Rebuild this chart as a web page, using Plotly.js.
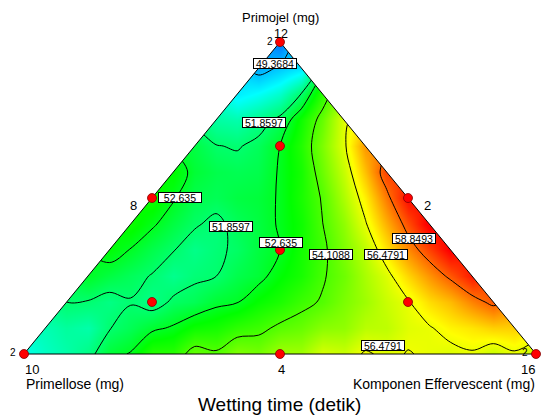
<!DOCTYPE html>
<html><head><meta charset="utf-8">
<script src="https://cdn.plot.ly/plotly-3.0.1.min.js"></script>
<style>html,body{margin:0;padding:0;background:#fff}#chart{width:542px;height:416px}</style>
</head><body><div id="chart"></div>
<script>
// Wetting time (detik) on a simplex lattice with step 1/12.
// Row i: Primojel pseudo-fraction = i/12; values run from the Primellose side (left) to the Effervescent side (right).
const row0  = [50.5, 51.2, 52.4, 53.56, 54.5, 54.9, 55.35, 56.15, 56.6, 56.52, 56.2, 55.9, 55.8];
const row1  = [51.1, 51.2, 52.1, 52.72, 53.3, 53.88, 54.5, 55.1, 55.75, 56.4, 57.05, 57.37];
const row2  = [51.86, 51.6, 51.55, 52.1, 52.6, 53.4, 54.2, 55.3, 56.4, 57.65, 59.1];
const row3  = [52.6, 52.05, 51.5, 51.85, 52.42, 53.34, 54.6, 56.2, 58.2, 60.0];
const row4  = [52.95, 52.2, 51.55, 51.95, 52.635, 53.9, 55.75, 58.35, 60.4];
const row5  = [53.2, 52.3, 51.7, 52.32, 53.2, 55.1, 57.8, 60.5];
const row6  = [53.25, 52.2, 52.3, 52.7, 54.2, 56.9, 60.2];
const row7  = [53.05, 52.2, 52.2, 53.3, 55.9, 59.4];
const row8  = [52.28, 51.8, 52.635, 54.8, 58.2];
const row9  = [51.28, 51.55, 53.2, 56.3];
const row10 = [50.04, 50.85, 53.6];
const row11 = [49.0, 49.9];
const row12 = [48.2];

// Contour levels drawn in the picture
const contourLevels = [49.3684, 51.8597, 52.635, 54.1088, 56.4791, 58.8493];

// Design points (pseudo-component fractions)
const ptPrimojel     = [1, 0, 0, 0.5, 0.5, 0, 1/3, 2/3, 1/6, 1/6];
const ptPrimellose   = [0, 1, 0, 0.5, 0, 0.5, 1/3, 1/6, 2/3, 1/6];
const ptEffervescent = [0, 0, 1, 0, 0.5, 0.5, 1/3, 1/6, 1/6, 2/3];

// Texts
const compTop = 'Primojel (mg)';
const compLeft = 'Primellose (mg)';
const compRight = 'Komponen Effervescent (mg)';
const chartTitle = 'Wetting time (detik)';
const vertexTop = '12', vertexLeft = '10', vertexRight = '16';
const vertexLow = '2';
const midLeft = '8', midRight = '2', midBottom = '4';
const contourLabelTexts = ['49.3684', '51.8597', '52.635', '51.8597', '52.635', '54.1088', '56.4791', '58.8493', '56.4791'];

// ---------- build ----------
const W = 542, H = 416;
const rows = [row0,row1,row2,row3,row4,row5,row6,row7,row8,row9,row10,row11,row12];
const N = rows.length - 1;
const latX = [], latY = [], latZ = [];
rows.forEach((r, i) => r.forEach((v, j) => {
  latX.push((2*j + i) / (2*N));   // effervescent + primojel/2
  latY.push(i / N);               // primojel
  latZ.push(v);
}));
// ternary (a = top, c = right) -> cartesian
const tx = (a, c) => c + a/2;
const ty = (a) => a;

// axis ranges so that the triangle sits where it does in the picture
const xr0 = -24/512, xr1 = xr0 + W/512;
const yr1 = 1 + 42/312, yr0 = yr1 - H/312;

const zmin = 46.5, zmax = 60.3;
const stops = [[46.5,'rgb(0,0,255)'],[50.3,'rgb(0,255,255)'],[53.0,'rgb(0,255,0)'],[56.7,'rgb(255,255,0)'],[60.3,'rgb(255,0,0)']];
const colorscale = stops.map(s => [(s[0]-zmin)/(zmax-zmin), s[1]]);

const traces = [];
traces.push({type:'heatmap', x: latX, y: latY, z: latZ, zsmooth:'best', connectgaps:true,
  colorscale, zmin, zmax, showscale:false, hoverinfo:'skip'});
contourLevels.forEach(L => traces.push({type:'contour', x: latX, y: latY, z: latZ, connectgaps:true,
  autocontour:false, contours:{start:L, end:L, size:1, coloring:'none', showlabels:false},
  line:{color:'#000', width:1, smoothing:1}, showscale:false, hoverinfo:'skip'}));
// white mask outside the triangle
traces.push({type:'scatter', mode:'none', fill:'toself', fillcolor:'#ffffff', hoverinfo:'skip',
  x:[-1,-1,0.6,0.5,0,0.1,null, 0.4,2,2,0.9,1,0.5,null, -0.3,1.3,1.3,-0.3],
  y:[-1, 2, 2, 1,  0,-1, null, 2, 2,-1,-1, 0,1, null,  0, 0,-1,-1]});
// triangle outline
traces.push({type:'scatter', mode:'lines', hoverinfo:'skip',
  x:[tx(0,0), tx(0,1), tx(1,0), tx(0,0)], y:[ty(0), ty(0), ty(1), ty(0)],
  line:{color:'#000', width:1}});
// design points
traces.push({type:'scatter', mode:'markers', hoverinfo:'skip',
  x: ptPrimojel.map((a,k) => tx(a, ptEffervescent[k])), y: ptPrimojel.map(a => ty(a)),
  marker:{color:'#ff0000', size:9, line:{color:'#800000', width:0.8}}, cliponaxis:false});

const F = 'Liberation Sans, Arial, sans-serif';
const P = (px, py) => ({x: px/W, y: 1 - py/H});
const ann = [];
function txt(t, px, py, size, xanchor){ const p = P(px,py);
  ann.push({text:t, x:p.x, y:p.y, xref:'paper', yref:'paper', showarrow:false,
    xanchor: xanchor||'center', yanchor:'middle', font:{family:F, size, color:'#000'}}); }
txt(compTop, 280, 17.5, 13);
txt(vertexTop, 281, 33.5, 12.5);
txt(vertexLow, 269.5, 42, 10);
txt(midLeft, 133.5, 205.5, 13);
txt(midRight, 427, 205.5, 13);
txt(vertexLow, 12.5, 352.5, 10);
txt(vertexLow, 525, 352.5, 10);
txt(vertexLeft, 31.5, 369, 13);
txt(midBottom, 281, 369, 13);
txt(vertexRight, 528, 369, 13);
txt(compLeft, 24, 384, 14, 'left');
txt(compRight, 537, 384, 14, 'right');
txt(chartTitle, 279, 404, 19);
const labelPos = [[275.3,63.7],[263.5,122],[180,197],[231.3,227],[280.5,242.5],[330.8,254],[385.8,254],[414,238],[383,345.5]];
contourLabelTexts.forEach((t,k) => { const p = P(labelPos[k][0], labelPos[k][1]);
  ann.push({text:t, x:p.x, y:p.y, xref:'paper', yref:'paper', showarrow:false, xanchor:'center', yanchor:'middle',
    font:{family:F, size:10.5, color:'#000'}, bgcolor:'#ffffff', bordercolor:'#000', borderwidth:1, borderpad:0,
    width:42, height:9}); });

const layout = {width:W, height:H, margin:{l:0,r:0,t:0,b:0}, paper_bgcolor:'#fff', plot_bgcolor:'#fff',
  showlegend:false,
  xaxis:{range:[xr0,xr1], visible:false, fixedrange:true},
  yaxis:{range:[yr0,yr1], visible:false, fixedrange:true},
  annotations: ann};
Plotly.newPlot('chart', traces, layout, {displayModeBar:false, staticPlot:true});
</script></body></html>
